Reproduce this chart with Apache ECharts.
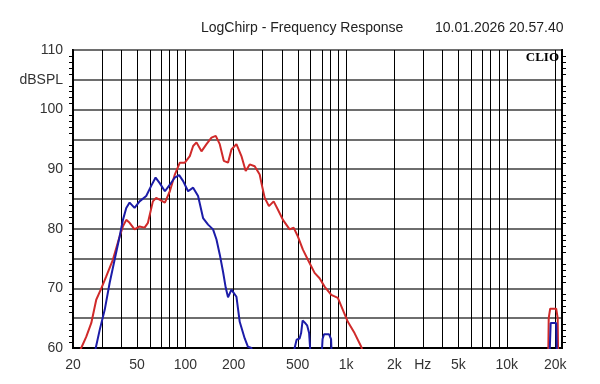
<!DOCTYPE html>
<html>
<head>
<meta charset="utf-8">
<script src="https://cdn.jsdelivr.net/npm/echarts@6/dist/echarts.min.js"></script>
<style>
html,body{margin:0;padding:0;background:#fff;}
#chart{width:600px;height:384px;}
</style>
</head>
<body>
<div id="chart"></div>
<script>
// ---- data ----
const redFreq = [20.9,22.5,24.2,26.0,27.9,30.0,32.2,35.4,39.0,40.9,42.9,45.0,48.3,51.9,55.8,58.5,62.8,65.8,69.1,74.6,80.1,86.0,92.4,99.3,106.6,111.8,117.3,126.0,135.4,145.4,154.6,163.7,173.4,184.3,193.5,207.9,223.3,237.4,251.4,270.1,290.1,297.2,311.6,331.3,354.4,376.9,404.8,445.5,471.7,501.6,538.8,578.8,637.0,684.1,734.9,808.9,888.9,954.8,1025.7,1128.9,1242.4,1302,
  18098,18226,18616,20288,20728,20876];
const redDb = [58.0,60.0,61.9,64.2,68.1,70.0,72.0,74.8,78.7,80.4,81.5,81.0,79.9,80.4,80.2,81.0,84.6,85.2,84.9,84.4,86.3,89.1,91.1,91.1,92.2,93.9,94.5,93.0,94.2,95.3,95.6,94.2,91.4,91.1,93.3,94.2,92.2,89.7,90.8,90.5,89.1,87.7,85.2,83.8,84.6,83.2,81.5,79.9,80.2,78.7,76.5,74.8,72.6,71.7,70.3,68.9,68.4,66.4,64.4,62.5,60.2,58.5,
  58,65,66.6,66.6,65,58];

const blueFreq = [26.6,27.7,29.3,31.5,33.8,36.3,39.0,40.9,42.9,45.0,48.3,51.9,57.1,61.3,65.3,69.1,74.6,80.1,86.0,91.5,96.9,104.0,111.8,120.0,128.9,138.5,148.7,156.2,163.7,171.6,178.4,184.3,193.5,207.9,217.9,234.1,245.3,257.6,266.2,
  458.4,478.5,492.3,513.9,525.1,536.5,552.1,572.2,588.9,597.3,605.9,
  698.9,714.1,729.6,783.9,806.6,818.2,
  18352,18750,20288,20580];
const blueDb = [56.0,60.0,63.0,66.4,70.9,74.8,78.7,81.5,83.5,84.4,83.5,84.6,85.5,87.2,88.6,87.7,86.3,87.4,88.6,89.0,88.0,86.3,86.9,85.5,81.8,80.7,79.9,78.2,75.7,72.8,70.1,68.5,69.8,68.6,64.4,61.6,60.2,60.0,57.0,
  57.0,60.0,61.4,61.6,62.5,64.6,64.3,63.8,62.5,60.0,57.0,
  57.0,61.5,62.3,62.3,61.5,57.0,
  57.0,64.2,64.2,57.0];

const gridFreqs = [30,40,50,60,70,80,90,100,200,300,400,500,600,700,800,900,1000,2000,3000,4000,5000,6000,7000,8000,9000,10000,20000];
const xTickFreqs = [20,50,100,200,500,1000,2000,3000,5000,10000,20000];
const xTickLabels = ['20','50','100','200','500','1k','2k','Hz','5k','10k','20k'];
const yLabelMap = {60:'60',70:'70',80:'80',90:'90',100:'100',105:'dBSPL',110:'110'};

const titleText = 'LogChirp - Frequency Response';
const dateText = '10.01.2026 20.57.40';

// ---- chart ----
const FONT = "'Liberation Sans', Arial, sans-serif";
const xMin = Math.log10(20), xMax = Math.log10(22050);
const toPts = (fs, ds) => fs.map((f, i) => [Math.log10(f), ds[i]]);

const chart = echarts.init(document.getElementById('chart'), null, {renderer: 'canvas'});
chart.setOption({
  animation: false,
  backgroundColor: '#fff',
  title: [
    {text: titleText, left: 196, top: 16, textStyle: {fontFamily: FONT, fontSize: 14, fontWeight: 'normal', color: '#222'}},
    {text: dateText, left: 430, top: 16, textStyle: {fontFamily: FONT, fontSize: 14, fontWeight: 'normal', color: '#222'}}
  ],
  graphic: [
    {type: 'text', right: 41, top: 51, z: 20, style: {text: 'CLIO', font: "bold 13px 'Liberation Serif', 'DejaVu Serif', serif", fill: '#000'}}
  ],
  grid: {left: 73, right: 38, top: 50, bottom: 36, show: true, borderColor: '#000', borderWidth: 2, backgroundColor: '#fff'},
  xAxis: {
    type: 'value', min: xMin, max: xMax,
    axisLine: {show: true, lineStyle: {color: '#000', width: 2}},
    axisTick: {show: false},
    splitLine: {show: false},
    axisLabel: {
      customValues: xTickFreqs.map(f => Math.log10(f)),
      fontFamily: FONT, fontSize: 14, color: '#333', margin: 10,
      formatter: v => {
        let best = 0, bd = 1e9;
        xTickFreqs.forEach((f, i) => { const d = Math.abs(Math.log10(f) - v); if (d < bd) { bd = d; best = i; } });
        return xTickLabels[best];
      }
    }
  },
  yAxis: [
    {
      type: 'value', min: 60, max: 110, interval: 5, position: 'left',
      axisLine: {show: true, lineStyle: {color: '#000', width: 2}},
      axisTick: {show: false},
      minorTick: {show: true, splitNumber: 5, length: 4, lineStyle: {color: '#000'}},
      splitLine: {show: true, lineStyle: {color: '#6e6e6e', width: 2}},
      axisLabel: {fontFamily: FONT, fontSize: 14, color: '#333', margin: 10, formatter: v => yLabelMap[v] || ''}
    },
    {
      type: 'value', min: 60, max: 110, interval: 5, position: 'right',
      axisLine: {show: true, lineStyle: {color: '#000', width: 2}},
      axisTick: {show: false},
      minorTick: {show: true, splitNumber: 5, length: 4, lineStyle: {color: '#000'}},
      splitLine: {show: false},
      axisLabel: {show: false}
    }
  ],
  series: [
    {
      type: 'line', data: [], silent: true,
      markLine: {
        silent: true, symbol: ['none', 'none'], label: {show: false},
        lineStyle: {color: '#000', width: 1, type: 'solid'},
        emphasis: {disabled: true},
        data: gridFreqs.map(f => ({xAxis: Math.log10(f)}))
      }
    },
    {
      type: 'line', z: 10, data: toPts(redFreq, redDb), showSymbol: false, smooth: false, clip: true,
      lineStyle: {color: '#d02a2a', width: 2}
    },
    {
      type: 'line', z: 11, data: toPts(blueFreq, blueDb), showSymbol: false, smooth: false, clip: true,
      lineStyle: {color: '#1c1ca8', width: 2}
    }
  ]
});
</script>
</body>
</html>
